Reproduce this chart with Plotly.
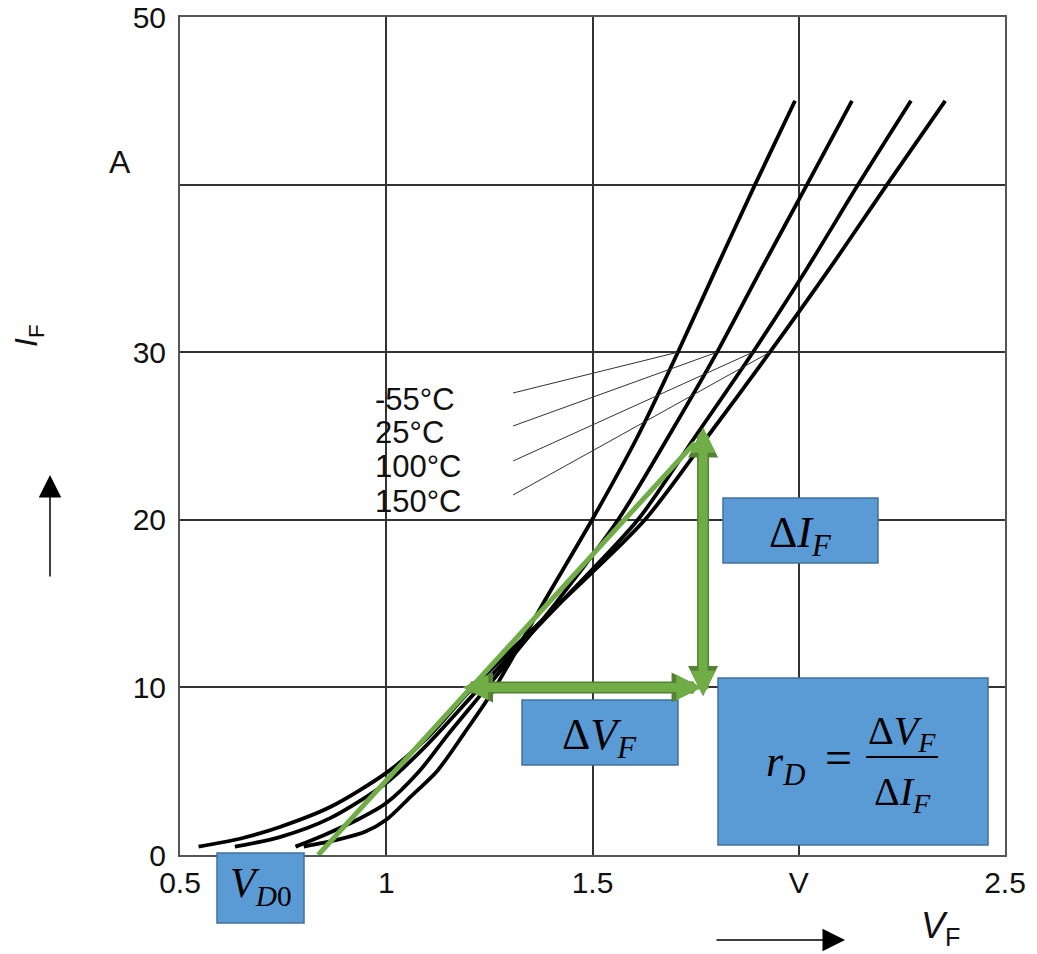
import plotly.graph_objects as go

# ---------------- data ----------------
temps = ["-55°C", "25°C", "100°C", "150°C"]

vf_m55 = [0.80, 0.88, 0.95, 1.00, 1.06, 1.123, 1.19, 1.264, 1.38, 1.499, 1.61, 1.707, 1.80, 1.894, 1.991]
if_m55 = [0.5, 0.9, 1.4, 2.1, 3.5, 5.0, 7.3, 10, 15, 20, 25, 30, 35, 40, 45]

vf_25 = [0.78, 0.85, 0.93, 1.00, 1.08, 1.15, 1.244, 1.41, 1.562, 1.685, 1.802, 1.91, 2.02, 2.129]
if_25 = [0.5, 1.2, 2.1, 3.1, 5.0, 7.2, 10, 15, 20, 25, 30, 35, 40, 45]

vf_100 = [0.633, 0.742, 0.864, 1.00, 1.10, 1.227, 1.42, 1.61, 1.75, 1.889, 2.02, 2.144, 2.272]
if_100 = [0.5, 1.07, 2.2, 4.3, 6.6, 10, 15, 20, 25, 30, 35, 40, 45]

vf_150 = [0.545, 0.65, 0.742, 0.864, 1.00, 1.10, 1.21, 1.42, 1.627, 1.78, 1.93, 2.075, 2.214, 2.355]
if_150 = [0.5, 1.0, 1.67, 2.86, 4.9, 7.0, 10, 15, 20, 25, 30, 35, 40, 45]

# tangent (green) line: V_D0 intercept to upper point
tangent_v = [0.835, 1.748]
tangent_i = [0.0, 24.6]

# delta arrows
dv_arrow_v = [1.186, 1.768]
dv_arrow_i = 10.0
di_arrow_v = 1.768
di_arrow_i = [9.4, 25.5]

x_tickvals = [0.5, 1.0, 1.5, 2.0, 2.5]
x_ticktext = ["0.5", "1", "1.5", "V", "2.5"]
y_tickvals = [0, 10, 20, 30, 40, 50]
y_ticktext = ["0", "10", "20", "30", "", "50"]

# ---------------- geometry helpers ----------------
W, H = 1037, 954
L, R, T, B = 180, 1005, 17, 855
X0, X1 = 0.5, 2.5
Y0, Y1 = 0.0, 50.0


def dx(px):
    return X0 + (px - L) / (R - L) * (X1 - X0)


def dy(py):
    return Y0 + (B - py) / (B - T) * (Y1 - Y0)


def pxp(px):
    return (px - L) / (R - L)


def pyp(py):
    return (B - py) / (B - T)


SANS = "Liberation Sans, Arial, sans-serif"
SERIF = "Liberation Serif, Times New Roman, serif"
GREEN = "#70AD47"
GREEN_EDGE = "#548235"
BLUE = "#5B9BD5"
BLUE_EDGE = "#41719C"

fig = go.Figure()

curves = [(vf_m55, if_m55), (vf_25, if_25), (vf_100, if_100), (vf_150, if_150)]
for name, (v, i) in zip(temps, curves):
    fig.add_trace(go.Scatter(x=v, y=i, mode="lines", name=name,
                             line=dict(color="black", width=3.8, shape="spline", smoothing=0.8),
                             showlegend=False, hoverinfo="skip"))

# leader lines from labels to curves at I = 30 A
label_py = [399, 432, 467, 501]
for (v, i), py in zip(curves, label_py):
    k = i.index(30)
    fig.add_trace(go.Scatter(x=[dx(513), v[k]], y=[dy(py - 6), 30], mode="lines",
                             line=dict(color="#333333", width=1), showlegend=False,
                             hoverinfo="skip"))

# green tangent line
fig.add_trace(go.Scatter(x=tangent_v, y=tangent_i, mode="lines",
                         line=dict(color=GREEN, width=5), showlegend=False, hoverinfo="skip"))

shapes = []
# white patch behind temperature labels (hides gridlines)
shapes.append(dict(type="rect", xref="paper", yref="paper",
                   x0=pxp(355), x1=pxp(521), y0=pyp(565), y1=pyp(373),
                   fillcolor="white", line=dict(width=0), layer="between"))

# blue boxes
boxes = [(217, 853, 304, 923), (723, 498, 878, 563), (522, 700, 678, 765), (718, 678, 988, 845)]
for (x0, y0, x1, y1) in boxes:
    shapes.append(dict(type="rect", xref="paper", yref="paper",
                       x0=pxp(x0), x1=pxp(x1), y0=pyp(y1), y1=pyp(y0),
                       fillcolor=BLUE, line=dict(color=BLUE_EDGE, width=1.5), layer="above"))
# fraction bar
shapes.append(dict(type="line", xref="paper", yref="paper",
                   x0=pxp(866), x1=pxp(938), y0=pyp(757), y1=pyp(757),
                   line=dict(color="black", width=2), layer="above"))

annotations = []


def label(px, py, text, font, xanchor="center", **kw):
    annotations.append(dict(xref="paper", yref="paper", x=pxp(px), y=pyp(py),
                            xanchor=xanchor, yanchor="middle", text=text,
                            showarrow=False, font=font, borderpad=0, **kw))


# temperature labels
for name, py in zip(temps, label_py):
    label(374, py, name, dict(family=SANS, size=31, color="#111"), xanchor="left")

# axis unit / labels
label(120, 162, "A", dict(family=SANS, size=32, color="#111"))
label(29, 336, "<i>I</i><sub>F</sub>", dict(family=SANS, size=32, color="#111"), textangle=-90)
label(940, 928, "<i>V</i><sub>F</sub>", dict(family=SANS, size=36, color="#111"))

# direction arrows
annotations.append(dict(xref="paper", yref="paper", x=pxp(50), y=pyp(475), ax=0, ay=103,
                        text="", showarrow=True, arrowhead=2, arrowwidth=1.5, arrowsize=3,
                        arrowcolor="black", standoff=0))
annotations.append(dict(xref="paper", yref="paper", x=pxp(845), y=pyp(940), ax=-130, ay=0,
                        text="", showarrow=True, arrowhead=2, arrowwidth=1.5, arrowsize=3,
                        arrowcolor="black", standoff=0))

# green double arrows (data coordinates): darker outline + lighter fill
for col, wid, size in [(GREEN_EDGE, 12, 0.5), (GREEN, 9, 0.56)]:
    annotations.append(dict(xref="x", yref="y", axref="x", ayref="y",
                            x=dv_arrow_v[0], y=dv_arrow_i, ax=dv_arrow_v[1], ay=dv_arrow_i,
                            text="", showarrow=True, arrowhead=2, startarrowhead=2,
                            arrowside="end+start", arrowwidth=wid, arrowsize=size,
                            startarrowsize=size, arrowcolor=col, standoff=0, startstandoff=0))
    annotations.append(dict(xref="x", yref="y", axref="x", ayref="y",
                            x=di_arrow_v, y=di_arrow_i[1], ax=di_arrow_v, ay=di_arrow_i[0],
                            text="", showarrow=True, arrowhead=2, startarrowhead=2,
                            arrowside="end+start", arrowwidth=wid, arrowsize=size,
                            startarrowsize=size, arrowcolor=col, standoff=0, startstandoff=0))

# box texts
mfont = dict(family=SERIF, size=44, color="black")
ffont = dict(family=SERIF, size=40, color="black")
label(261, 886, "<i>V</i><sub><i>D</i>0</sub>", dict(family=SERIF, size=42, color="black"))
label(800, 535, "Δ<i>I</i><sub><i>F</i></sub>", mfont)
label(599, 737, "Δ<i>V</i><sub><i>F</i></sub>", mfont)
label(785, 764, "<i>r</i><sub><i>D</i></sub>", mfont)
label(838, 757, "=", dict(family=SERIF, size=48, color="black"))
label(902, 733, "Δ<i>V</i><sub><i>F</i></sub>", ffont)
label(902, 794, "Δ<i>I</i><sub><i>F</i></sub>", ffont)

axis_common = dict(showgrid=True, gridcolor="#333333", gridwidth=1.6, zeroline=False,
                   showline=True, mirror=True, linecolor="#555555", linewidth=2,
                   ticks="", automargin=False,
                   tickfont=dict(family=SANS, size=30, color="#111"))

fig.update_layout(
    width=W, height=H, autosize=False,
    margin=dict(l=L, r=W - R, t=T, b=H - B, pad=0),
    paper_bgcolor="white", plot_bgcolor="white",
    xaxis=dict(range=[X0, X1], tickvals=x_tickvals, ticktext=x_ticktext,
               ticklabelstandoff=0, **axis_common),
    yaxis=dict(range=[Y0, Y1], tickvals=y_tickvals, ticktext=y_ticktext,
               ticklabelstandoff=6, **axis_common),
    shapes=shapes, annotations=annotations, showlegend=False,
)

fig.write_html("out.html")
